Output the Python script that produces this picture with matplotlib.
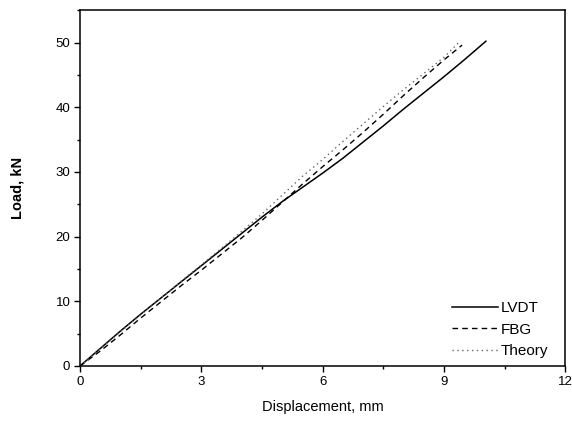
import matplotlib
matplotlib.use("Agg")
import matplotlib.pyplot as plt
from matplotlib.ticker import MultipleLocator

plt.rcParams['font.family'] = ['Liberation Sans', 'DejaVu Sans']

lvdt_x = [0, 0.5, 1, 1.5, 2, 2.5, 3, 3.5, 4, 4.5, 5, 5.5, 6, 6.5, 7, 7.5, 8, 8.5, 9, 9.5, 10.04]
lvdt_y = [0, 2.7, 5.4, 8.0, 10.5, 13.0, 15.5, 18.0, 20.5, 23.0, 25.4, 27.6, 29.8, 32.1, 34.6, 37.1, 39.7, 42.2, 44.7, 47.3, 50.2]

fbg_x = [0, 0.5, 1, 1.5, 2, 2.5, 3, 3.5, 4, 4.5, 5, 5.5, 6, 6.5, 7, 7.5, 8, 8.5, 9, 9.45]
fbg_y = [0, 2.3, 4.8, 7.4, 9.9, 12.4, 14.8, 17.3, 19.8, 22.5, 25.3, 28.1, 30.8, 33.4, 36.1, 38.9, 41.8, 44.6, 47.3, 49.6]

theory_x = [0, 0.5, 1, 1.5, 2, 2.5, 3, 3.5, 4, 4.5, 5, 5.5, 6, 6.5, 7, 7.5, 8, 8.5, 9, 9.4]
theory_y = [0, 2.6, 5.3, 7.9, 10.5, 13.1, 15.6, 18.2, 20.8, 23.5, 26.4, 29.3, 31.9, 34.7, 37.4, 40.1, 42.7, 45.2, 47.7, 50.2]

x_ticks = [0, 3, 6, 9, 12]
y_ticks = [0, 10, 20, 30, 40, 50]

fig = plt.figure(figsize=(5.72, 4.24), dpi=100)
ax = fig.add_axes([0.14, 0.137, 0.848, 0.839])

ax.plot(lvdt_x, lvdt_y, color='black', lw=1.1, ls='-', label='LVDT')
ax.plot(fbg_x, fbg_y, color='black', lw=1.0, ls=(0, (4, 3)), label='FBG')
ax.plot(theory_x, theory_y, color='#666666', lw=1.0, ls=(0, (1, 2.5)), label='Theory')

ax.set_xlim(0, 12)
ax.set_ylim(0, 55)
ax.set_xticks(x_ticks)
ax.set_yticks(y_ticks)
ax.xaxis.set_minor_locator(MultipleLocator(1.5))
ax.yaxis.set_minor_locator(MultipleLocator(5))
ax.tick_params(which='major', direction='out', length=4, width=1, labelsize=9.5,
               top=False, right=False, pad=3)
ax.tick_params(which='minor', direction='out', length=2.5, width=1, top=False, right=False)
for s in ax.spines.values():
    s.set_linewidth(1.1)

ax.set_xlabel('Displacement, mm', fontsize=10.5, labelpad=9)
ax.set_ylabel('Load, kN', fontsize=10.5, fontweight='bold', labelpad=22)

leg = ax.legend(loc='lower right', bbox_to_anchor=(0.981, 0.0), frameon=False,
                fontsize=11, handlelength=3.0, handletextpad=0.2,
                labelspacing=0.5, borderaxespad=0.1)

fig.savefig('out.png', dpi=100)
